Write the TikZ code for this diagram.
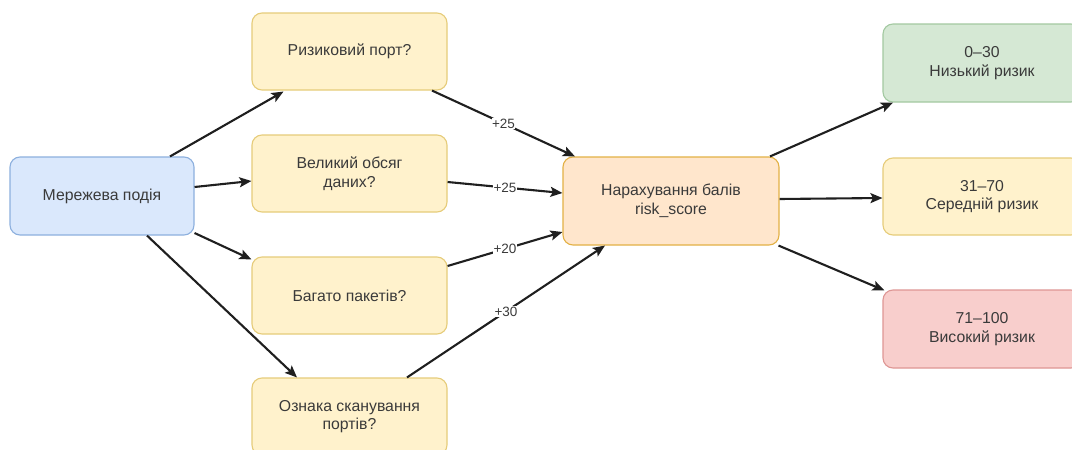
\documentclass[tikz,border=0pt]{standalone}
\usepackage{fontspec}
\setmainfont{Liberation Sans}
\usetikzlibrary{arrows.meta}
\definecolor{txt}{HTML}{3A3A3A}
\definecolor{bluef}{HTML}{DAE8FC}\definecolor{blued}{HTML}{8DB0DE}
\definecolor{yelf}{HTML}{FFF2CC}\definecolor{yeld}{HTML}{E6CC7A}
\definecolor{orf}{HTML}{FFE6CC}\definecolor{ord}{HTML}{E3B145}
\definecolor{grf}{HTML}{D5E8D4}\definecolor{grd}{HTML}{A3C9A1}
\definecolor{ref}{HTML}{F8CECC}\definecolor{red2}{HTML}{DE9694}
\tikzset{
  box/.style={rectangle, rounded corners=10pt, line width=1.1pt, align=center,
    text=txt, font=\fontsize{15.8}{18.5}\selectfont, inner sep=2pt},
  bluebox/.style={box, fill=bluef, draw=blued},
  yelbox/.style={box, fill=yelf, draw=yeld},
  orbox/.style={box, fill=orf, draw=ord},
  grbox/.style={box, fill=grf, draw=grd},
  redbox/.style={box, fill=ref, draw=red2},
  arr/.style={line width=2.1pt, draw=black!88, -{Stealth[length=12pt,width=10pt,inset=2.5pt]}},
  lbl/.style={fill=white, text=txt, font=\fontsize{13.5}{15}\selectfont, inner sep=0.5pt}
}
\begin{document}
\begin{tikzpicture}[x=1pt,y=-1pt]
\useasboundingbox (0,0) rectangle (1072,450);
\clip (0,0) rectangle (1072,450);
\fill[white] (0,0) rectangle (1072,450);
\node[bluebox, minimum width=184pt, minimum height=78pt] (ev) at (102,196) {Мережева подія};
\node[yelbox, minimum width=195pt, minimum height=77pt] (q1) at (349.5,51.5) {Ризиковий порт?};
\node[yelbox, minimum width=195pt, minimum height=77pt] (q2) at (349.5,173.5) {Великий обсяг\\даних?};
\node[yelbox, minimum width=195pt, minimum height=77pt] (q3) at (349.5,295.5) {Багато пакетів?};
\node[yelbox, minimum width=195pt, minimum height=77pt] (q4) at (349.5,416.5) {Ознака сканування\\портів?};
\node[orbox, minimum width=216pt, minimum height=88pt] (sc) at (671,201) {Нарахування балів\\risk\_score};
\node[grbox, minimum width=198pt, minimum height=78pt] (r1) at (982,63) {0–30\\Низький ризик};
\node[yelbox, minimum width=198pt, minimum height=77pt] (r2) at (982,196.5) {31–70\\Середній ризик};
\node[redbox, minimum width=198pt, minimum height=78pt] (r3) at (982,329) {71–100\\Високий ризик};

\draw[arr] ([xshift=68pt]ev.north) -- ([xshift=-66pt,yshift=-1pt]q1.south);
\draw[arr] ([yshift=9pt]ev.east) -- ([yshift=-7.5pt]q2.west);
\draw[arr] ([yshift=-37pt]ev.east) -- ([yshift=-3pt]q3.north west);
\draw[arr] ([xshift=45pt]ev.south) -- ([xshift=-52.5pt]q4.north);

\draw[arr] ([xshift=82.5pt]q1.south) -- node[lbl]{+25} ([xshift=-96pt]sc.north);
\draw[arr] ([yshift=-8.5pt]q2.east) -- node[lbl]{+25} ([yshift=8pt]sc.west);
\draw[arr] ([yshift=29.5pt]q3.east) -- node[lbl]{+20} ([yshift=-31pt]sc.west);
\draw[arr] ([xshift=57.5pt]q4.north) -- node[lbl]{+30} ([xshift=-66pt]sc.south);

\draw[arr] ([xshift=99pt]sc.north) -- ([xshift=-89pt]r1.south);
\draw[arr] ([yshift=2pt]sc.east) -- ([yshift=-1.5pt]r2.west);
\draw[arr] ([xshift=-1pt]sc.south east) -- ([xshift=2pt,yshift=-1pt]r3.north west);
\end{tikzpicture}
\end{document}
